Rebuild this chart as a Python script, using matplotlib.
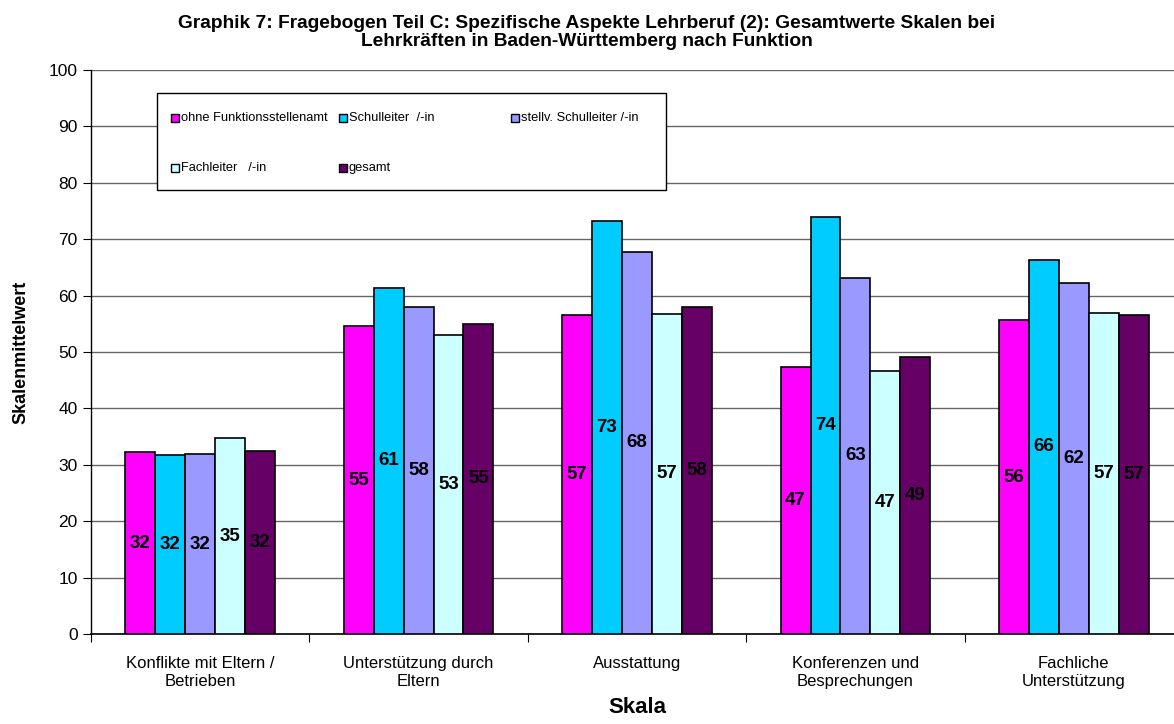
import numpy as np
import matplotlib
matplotlib.use("Agg")
import matplotlib.pyplot as plt
from matplotlib.patches import Rectangle

plt.rcParams['font.family'] = ['Liberation Sans', 'DejaVu Sans']

# Daten
kategorien = ["Konflikte mit Eltern /\nBetrieben", "Unterstützung durch\nEltern", "Ausstattung",
              "Konferenzen und\nBesprechungen", "Fachliche\nUnterstützung"]
serien = ["ohne Funktionsstellenamt", "Schulleiter  /-in", "stellv. Schulleiter /-in",
          "Fachleiter   /-in", "gesamt"]
ohne_funktion = [32.2, 54.6, 56.6, 47.4, 55.6]
schulleiter = [31.7, 61.4, 73.2, 74.0, 66.4]
stellv_schulleiter = [31.9, 57.9, 67.8, 63.2, 62.3]
fachleiter = [34.7, 53.1, 56.8, 46.6, 57.0]
gesamt = [32.4, 55.0, 57.9, 49.1, 56.6]
farben = ["#FF00FF", "#00CCFF", "#9999FF", "#CCFFFF", "#660066"]

werte = [ohne_funktion, schulleiter, stellv_schulleiter, fachleiter, gesamt]

fig = plt.figure(figsize=(11.74, 7.24), dpi=100)
ax = fig.add_axes([0.0775, 0.1243, 1.0077 - 0.0775, 0.9033 - 0.1243])

x = np.arange(len(kategorien))
breite = 0.137
for i, (name, vals, farbe) in enumerate(zip(serien, werte, farben)):
    pos = x + (i - 2) * breite
    bars = ax.bar(pos, vals, breite, color=farbe, edgecolor="black", linewidth=1.2,
                  label=name, zorder=3)
    for b, v in zip(bars, vals):
        ax.text(b.get_x() + b.get_width() / 2, v / 2, f"{v:.0f}", ha="center", va="center",
                fontsize=13.5, fontweight="bold", color="black", zorder=4)

ax.set_xlim(-0.5, len(kategorien) - 0.5)
ax.set_ylim(0, 100)
ax.set_yticks(np.arange(0, 101, 10))
ax.yaxis.grid(True, color="#666666", linewidth=1.0, zorder=0)
ax.set_xticks(np.arange(-0.5, len(kategorien), 1.0))
ax.set_xticklabels([])
ax.set_xticks(x, minor=True)
ax.set_xticklabels(kategorien, minor=True, fontsize=12)
ax.tick_params(axis="x", which="minor", length=0, pad=16)
ax.tick_params(axis="x", which="major", length=6, direction="out")
ax.tick_params(axis="y", length=6, direction="out", labelsize=12.5)

for s in ["top", "right"]:
    ax.spines[s].set_visible(False)
ax.spines["left"].set_linewidth(1.0)
ax.spines["bottom"].set_linewidth(1.2)

ax.set_ylabel("Skalenmittelwert", fontsize=13, fontweight="bold", labelpad=14)
ax.set_xlabel("Skala", fontsize=16, fontweight="bold", labelpad=6)
fig.text(0.5, 0.955, "Graphik 7: Fragebogen Teil C: Spezifische Aspekte Lehrberuf (2): Gesamtwerte Skalen bei\n"
         "Lehrkräften in Baden-Württemberg nach Funktion",
         ha="center", va="center", fontsize=13.8, fontweight="bold", linespacing=1.1)

# Legende im Excel-Stil (feste Spaltenbreiten, zeilenweise)
def px_x(p):
    return (p - 91) / 1092.0

def px_y(p):
    return (634 - p) / 564.0

ax.add_patch(Rectangle((px_x(157), px_y(190)), px_x(666) - px_x(157), px_y(93) - px_y(190),
                       transform=ax.transAxes, facecolor="white", edgecolor="black",
                       linewidth=1.0, zorder=5, clip_on=False))
spalten = [171, 339, 511]
zeilen = [118, 168]
for i, (name, farbe) in enumerate(zip(serien, farben)):
    cx = spalten[i % 3]
    cy = zeilen[i // 3]
    ax.add_patch(Rectangle((px_x(cx), px_y(cy + 4)), px_x(cx + 8) - px_x(cx), px_y(cy - 4) - px_y(cy + 4),
                           transform=ax.transAxes, facecolor=farbe, edgecolor="black",
                           linewidth=1.0, zorder=6, clip_on=False))
    ax.text(px_x(cx + 10), px_y(cy), name, transform=ax.transAxes, ha="left", va="center",
            fontsize=9.3, zorder=6)

fig.savefig("out.png", dpi=100)
